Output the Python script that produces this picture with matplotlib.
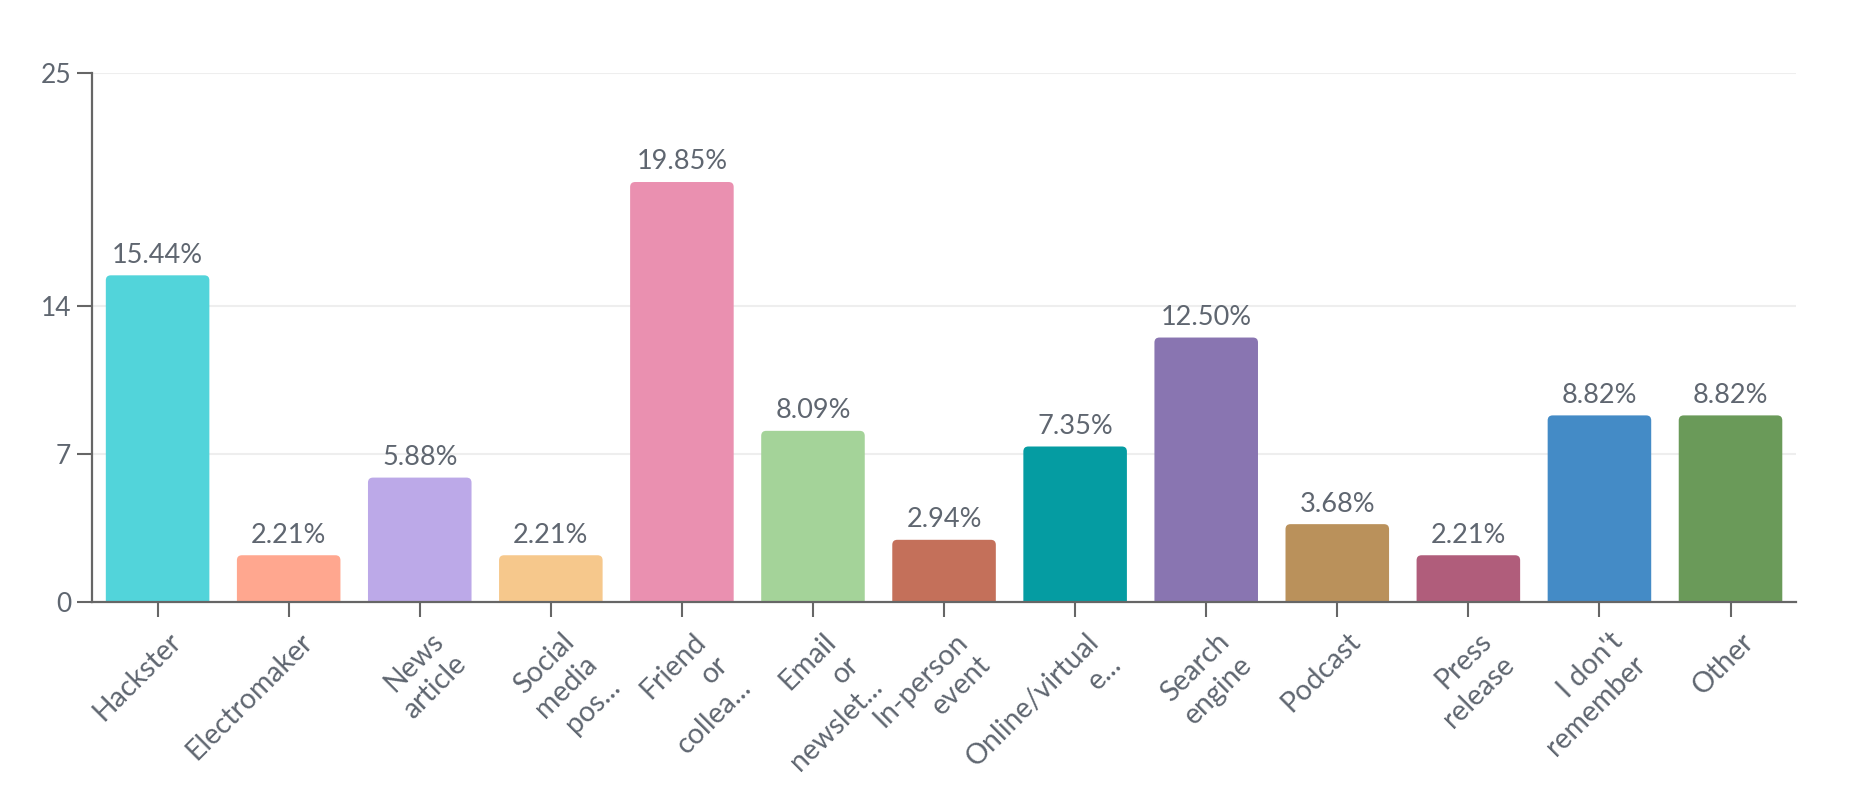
import matplotlib.pyplot as plt
from matplotlib.patches import FancyBboxPatch
from matplotlib.transforms import ScaledTranslation

categories = ["Hackster", "Electromaker", "News\narticle", "Social\nmedia\npos...",
              "Friend\nor\ncollea...", "Email\nor\nnewslet...", "In-person\nevent",
              "Online/virtual\ne...", "Search\nengine", "Podcast", "Press\nrelease",
              "I don't\nremember", "Other"]
values = [15.44, 2.21, 5.88, 2.21, 19.85, 8.09, 2.94, 7.35, 12.50, 3.68, 2.21, 8.82, 8.82]
colors = ["#52d4da", "#ffa78f", "#bca9e8", "#f6c88c", "#ea90b0", "#a4d399", "#c4705a",
          "#059ca2", "#8975b1", "#ba915b", "#b05d7b", "#448bc6", "#6a9a59"]
yticks = [0, 7, 14, 25]

TXT = "#5f6670"
AX = "#666666"

plt.rcParams['font.family'] = ['Lato', 'DejaVu Sans']

fig = plt.figure(figsize=(18.56, 7.94), dpi=100)
ax = fig.add_axes([0.0496, 0.2418, 0.9181, 0.6662])
ax.set_xlim(-0.5, len(categories) - 0.5)
ax.set_ylim(0, 25)

# grid
for t in yticks[1:]:
    ax.axhline(t, color="#eeeeee", lw=1.5, zorder=0)

# bars with rounded tops
bars = ax.bar(range(len(categories)), values, width=0.79, color=colors)
px_x = ax.transData.transform((1, 0))[0] - ax.transData.transform((0, 0))[0]
px_y = ax.transData.transform((0, 1))[1] - ax.transData.transform((0, 0))[1]
r = 5 / px_x
for b, c in zip(bars, colors):
    x0, w, h = b.get_x(), b.get_width(), b.get_height()
    b.remove()
    p = FancyBboxPatch((x0, -1), w, h + 1, boxstyle=f"round,pad=0,rounding_size={r}",
                       mutation_aspect=px_x / px_y, fc=c, ec="none", zorder=2)
    ax.add_patch(p)

for i, v in enumerate(values):
    ax.annotate(f"{v:.2f}%", (i, v), xytext=(0, 5.5), textcoords="offset points",
                ha="center", va="bottom", fontsize=19.5, color=TXT)

ax.tick_params(axis="both", colors=AX, labelcolor=TXT, width=1.5, length=11)
ax.tick_params(axis="y", pad=4, labelsize=19)
ax.tick_params(axis="x", pad=2, labelsize=20.5)

ax.set_yticks(yticks)
ax.set_yticklabels([str(t) for t in yticks])
ax.set_xticks(range(len(categories)))
ax.set_xticklabels(categories, rotation=45, ha="right", va="top",
                   rotation_mode="anchor", multialignment="right", linespacing=1.3)
off = ScaledTranslation(10 / 100, -8 / 100, fig.dpi_scale_trans)
for lab in ax.get_xticklabels():
    lab.set_transform(lab.get_transform() + off)

for s in ["top", "right"]:
    ax.spines[s].set_visible(False)
for s in ["left", "bottom"]:
    ax.spines[s].set_color(AX)
    ax.spines[s].set_linewidth(1.6)
    ax.spines[s].set_zorder(3)

fig.savefig("out.png", dpi=100)
